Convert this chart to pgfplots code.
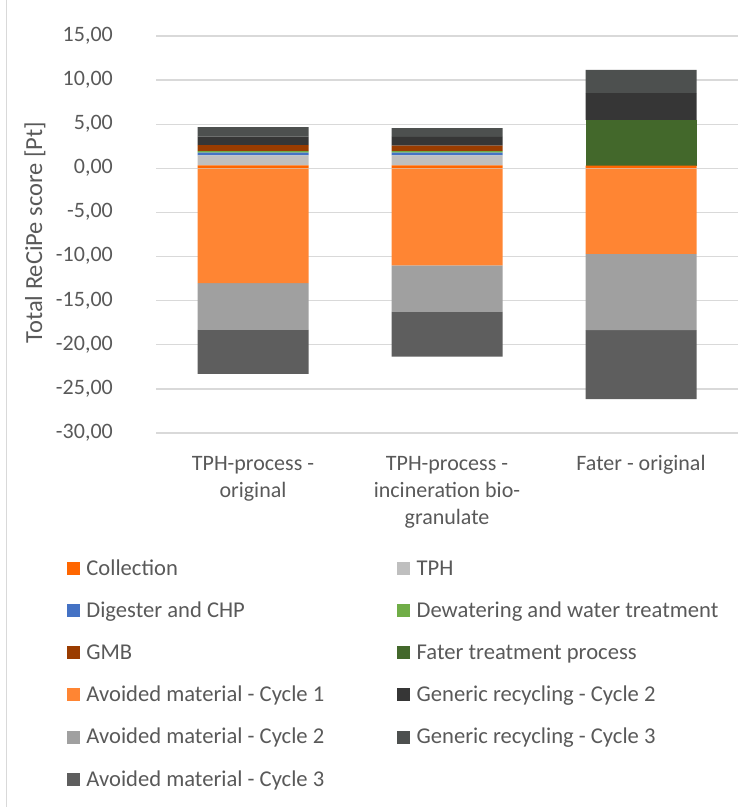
\documentclass[border=0pt]{standalone}
\usepackage{pgfplots}
\usepackage{pgfplotstable}
\pgfplotsset{compat=1.18}
\usepackage{fontspec}
\setmainfont{Carlito}
\definecolor{txt}{HTML}{595959}
\definecolor{gridc}{HTML}{D9D9D9}
\definecolor{collection}{HTML}{FF6600}
\definecolor{tph}{HTML}{BFBFBF}
\definecolor{digester}{HTML}{4472C4}
\definecolor{dewater}{HTML}{70AD47}
\definecolor{gmb}{HTML}{9A3C00}
\definecolor{fater}{HTML}{43682B}
\definecolor{avone}{HTML}{FF8533}
\definecolor{gentwo}{HTML}{363636}
\definecolor{avtwo}{HTML}{A0A0A0}
\definecolor{genthree}{HTML}{4D504F}
\definecolor{avthree}{HTML}{5E5E5E}

\newcommand\leg[2]{\addlegendimage{legend image code/.code={\fill[#1] (0bp,-4.5bp) rectangle (12bp,7.5bp);}}\addlegendentry{#2}}

\pgfplotstableread{
x col tph dig dew gmb fat gtwo gthree
0 0.34 1.13 0.30 0.19 0.68 0 0.94 1.10
1 0.34 1.13 0.30 0.17 0.62 0 1.00 1.00
2 0.30 0 0 0 0 5.20 3.02 2.64
}\posdata
\pgfplotstableread{
x aone atwo athree
0 -13.00 -5.30 -5.00
1 -11.00 -5.27 -5.08
2 -9.70 -8.65 -7.82
}\negdata

\pgfplotsset{base/.style={at={(156bp,374bp)}, anchor=south west,
  width=582bp, height=397bp, scale only axis,
  xmin=-0.5, xmax=2.5, ymin=-30, ymax=15,
  ybar stacked, bar width=111bp}}

\begin{document}
\begin{tikzpicture}
\useasboundingbox (0,0) rectangle (753bp,807bp);
\draw[gridc, line width=1bp] (6bp,0) -- (6bp,807bp);
\begin{axis}[base,
  axis line style={draw=none}, tick style={draw=none},
  ytick={-30,-25,...,15}, ymajorgrids, grid style={gridc, line width=1.3bp},
  xtick={0,1,2},
  xticklabels={{TPH-process -\\original},{TPH-process -\\incineration bio-\\granulate},{Fater - original}},
  typeset ticklabels with strut,
  xticklabel style={align=center, inner sep=0pt, yshift=-18bp, font=\fontsize{22bp}{27bp}\selectfont, text=txt},
  yticklabel style={inner sep=0pt, xshift=-43bp, font=\fontsize{22bp}{27bp}\selectfont, text=txt},
  /pgf/number format/fixed, /pgf/number format/fixed zerofill,
  /pgf/number format/precision=2, /pgf/number format/use comma,
  /pgf/number format/assume math mode=true,
  ylabel={Total ReCiPe score [Pt]},
  ylabel style={at={(axis description cs:-0.2079,0.505)}, anchor=center, font=\fontsize{24.5bp}{28bp}\selectfont, text=txt},
]
\addplot[fill=avone, draw=none, forget plot] table[x=x,y=aone]{\negdata};
\addplot[fill=avtwo, draw=none, forget plot] table[x=x,y=atwo]{\negdata};
\addplot[fill=avthree, draw=none, forget plot] table[x=x,y=athree]{\negdata};
\end{axis}
\begin{axis}[base, hide axis,
  legend columns=2, legend cell align=left,
  legend style={draw=none, fill=none, inner sep=0pt, outer sep=0pt,
    at={(-0.1529,-0.3174)}, anchor=north west,
    font=\fontsize{22.6bp}{27bp}\selectfont, text=txt,
    nodes={inner xsep=7bp, inner ysep=0pt, text height=16bp, text depth=5bp},
    row sep=21.2bp,
    /tikz/every even column/.append style={column sep=66bp}},
]
\addplot[fill=collection, draw=none, forget plot] table[x=x,y=col]{\posdata};
\addplot[fill=tph, draw=none, forget plot] table[x=x,y=tph]{\posdata};
\addplot[fill=digester, draw=none, forget plot] table[x=x,y=dig]{\posdata};
\addplot[fill=dewater, draw=none, forget plot] table[x=x,y=dew]{\posdata};
\addplot[fill=gmb, draw=none, forget plot] table[x=x,y=gmb]{\posdata};
\addplot[fill=fater, draw=none, forget plot] table[x=x,y=fat]{\posdata};
\addplot[fill=gentwo, draw=none, forget plot] table[x=x,y=gtwo]{\posdata};
\addplot[fill=genthree, draw=none, forget plot] table[x=x,y=gthree]{\posdata};
\draw[gridc, line width=1.3bp] (axis cs:-0.5,0) -- (axis cs:2.5,0);
\leg{collection}{Collection}
\leg{tph}{TPH}
\leg{digester}{Digester and CHP}
\leg{dewater}{Dewatering and water treatment}
\leg{gmb}{GMB}
\leg{fater}{Fater treatment process}
\leg{avone}{Avoided material - Cycle 1}
\leg{gentwo}{Generic recycling - Cycle 2}
\leg{avtwo}{Avoided material - Cycle 2}
\leg{genthree}{Generic recycling - Cycle 3}
\leg{avthree}{Avoided material - Cycle 3}
\end{axis}
\end{tikzpicture}
\end{document}
